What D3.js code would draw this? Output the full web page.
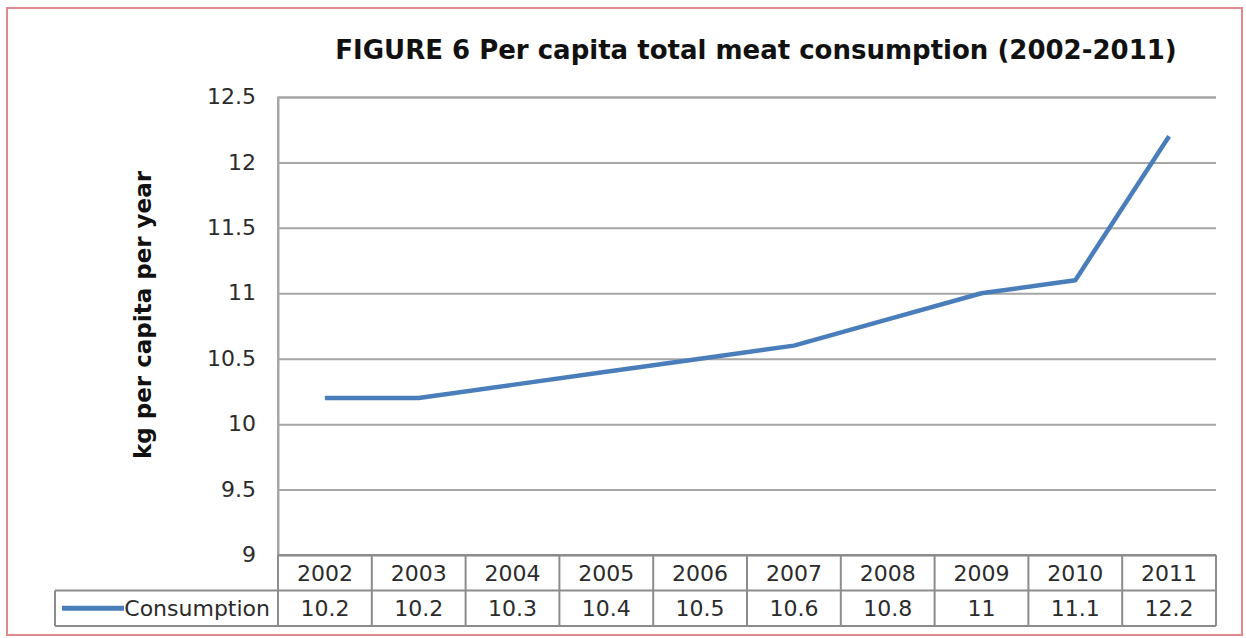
<!DOCTYPE html>
<html>
<head>
<meta charset="utf-8">
<script src="https://cdn.jsdelivr.net/npm/d3@7"></script>
<style>
  body { margin: 0; background: #fff; }
  svg { display: block; }
  text { font-family: "DejaVu Sans", Verdana, sans-serif; }
</style>
</head>
<body>
<svg id="chart"></svg>
<script>
let svgWidth = 1246, svgHeight = 638

// data
let years = ['2002', '2003', '2004', '2005', '2006', '2007', '2008', '2009', '2010', '2011']
let consumption = [10.2, 10.2, 10.3, 10.4, 10.5, 10.6, 10.8, 11, 11.1, 12.2]
let yTicks = [9, 9.5, 10, 10.5, 11, 11.5, 12, 12.5]
let seriesName = 'Consumption'

let plotLeft = 278, plotRight = 1216, plotTop = 97, plotBottom = 555
let rowH = 35.5, legendLeft = 55
let lineColor = '#4a7ebb', gridColor = '#a6a6a6', tableColor = '#8c8c8c'

let svg = d3.select('#chart').attr('width', svgWidth).attr('height', svgHeight)

// pink frame round the figure
svg.append('rect')
  .attr('x', 7).attr('y', 8).attr('width', 1235).attr('height', 627)
  .attr('fill', 'none').attr('stroke', '#e08a8e').attr('stroke-width', 2)

let x = d3.scaleBand().domain(years).range([plotLeft, plotRight])
let y = d3.scaleLinear().domain([9, 12.5]).range([plotBottom, plotTop])

// grid + y tick labels
let yAxis = d3.axisLeft(y).tickValues(yTicks).tickSize(-(plotRight - plotLeft)).tickPadding(22)
  .tickFormat(d => d)
let gy = svg.append('g').attr('transform', `translate(${plotLeft},0)`).call(yAxis)
gy.select('.domain').attr('stroke', gridColor).attr('stroke-width', 2)
gy.selectAll('.tick line').attr('stroke', gridColor).attr('stroke-width', 2)
gy.selectAll('.tick text')
  .attr('fill', '#2b2b2b').style('font-size', '22px').attr('dy', '0.3em')

svg.append('line')
  .attr('x1', plotLeft).attr('x2', plotLeft).attr('y1', plotTop).attr('y2', plotBottom)
  .attr('stroke', gridColor).attr('stroke-width', 2)

// line
let line = d3.line()
  .x((d, i) => x(years[i]) + x.bandwidth() / 2)
  .y(d => y(d))
svg.append('path').datum(consumption)
  .attr('d', line)
  .attr('fill', 'none').attr('stroke', lineColor).attr('stroke-width', 4.5)
  .attr('stroke-linejoin', 'round')

// data table
let table = svg.append('g')
let rowTop = plotBottom, row2 = plotBottom + rowH, rowEnd = plotBottom + 2 * rowH

table.selectAll('.yr').data(years).enter().append('text')
  .attr('x', d => x(d) + x.bandwidth() / 2).attr('y', rowTop + rowH / 2)
  .attr('dy', '0.36em').attr('text-anchor', 'middle')
  .style('font-size', '22px').attr('fill', '#2b2b2b')
  .text(d => d)

table.selectAll('.val').data(consumption).enter().append('text')
  .attr('x', (d, i) => x(years[i]) + x.bandwidth() / 2).attr('y', row2 + rowH / 2)
  .attr('dy', '0.36em').attr('text-anchor', 'middle')
  .style('font-size', '22px').attr('fill', '#2b2b2b')
  .text(d => d)

// table grid lines
let hLines = [
  [plotLeft, rowTop, plotRight, rowTop],
  [legendLeft, row2, plotRight, row2],
  [legendLeft, rowEnd, plotRight, rowEnd],
  [legendLeft, row2, legendLeft, rowEnd]
]
d3.range(years.length + 1).forEach(i => {
  let xx = i < years.length ? x(years[i]) : plotRight
  hLines.push([xx, rowTop, xx, rowEnd])
})
table.selectAll('line').data(hLines).enter().append('line')
  .attr('x1', d => d[0]).attr('y1', d => d[1]).attr('x2', d => d[2]).attr('y2', d => d[3])
  .attr('stroke', tableColor).attr('stroke-width', 2)

// legend key in table
table.append('line')
  .attr('x1', 62).attr('x2', 124).attr('y1', row2 + rowH / 2).attr('y2', row2 + rowH / 2)
  .attr('stroke', lineColor).attr('stroke-width', 5)
table.append('text')
  .attr('x', 270).attr('y', row2 + rowH / 2).attr('dy', '0.36em').attr('text-anchor', 'end')
  .style('font-size', '22px').attr('fill', '#2b2b2b')
  .text(seriesName)

// title
svg.append('text')
  .attr('x', 756).attr('y', 59).attr('text-anchor', 'middle')
  .style('font-size', '26px').style('font-weight', 'bold').attr('fill', '#111')
  .text('FIGURE 6 Per capita total meat consumption (2002-2011)')

// y axis title
svg.append('text')
  .attr('transform', 'translate(151,315) rotate(-90)')
  .attr('text-anchor', 'middle')
  .style('font-size', '23px').style('font-weight', 'bold').attr('fill', '#111')
  .text('kg per capita per year')
</script>
</body>
</html>
